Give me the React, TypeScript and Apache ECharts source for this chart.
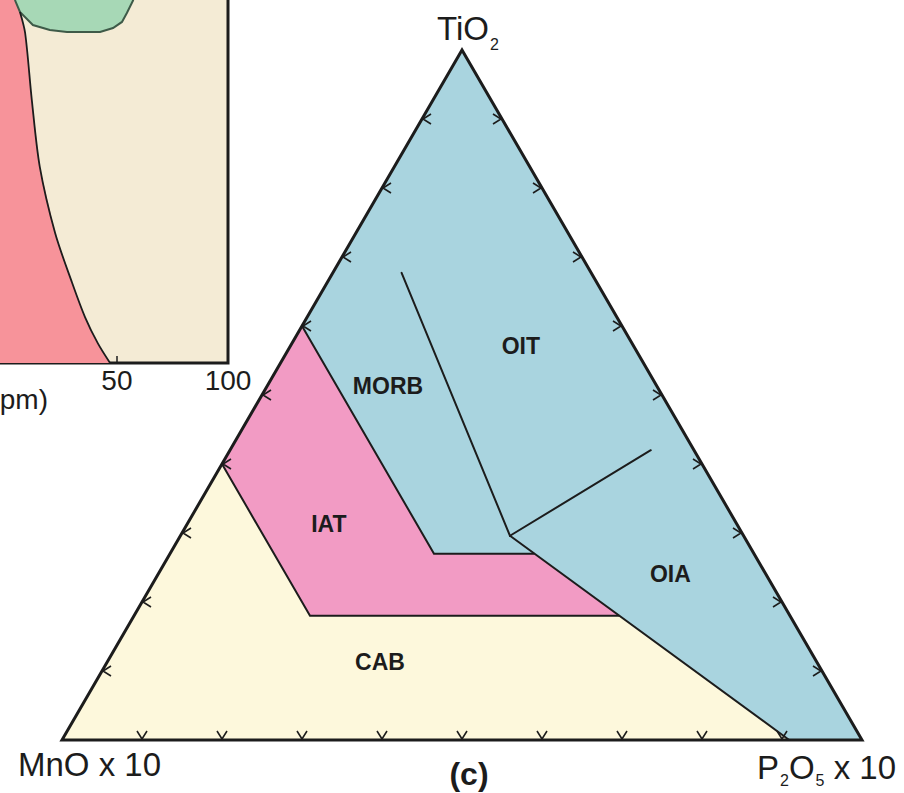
import React, { useEffect, useRef } from 'react';
import * as echarts from 'echarts';

const FONT = '"Liberation Sans", Arial, Helvetica, sans-serif';
const INK = '#1c1c1c';
const OCEAN_BLUE = '#a9d4df';
const IAT_PINK = '#f29bc4';
const CAB_YELLOW = '#fdf8dc';
const LEFT_PINK = '#f7939a';
const LEFT_GREEN = '#a7d8b6';
const LEFT_BEIGE = '#f4ebd5';
const GREEN_EDGE = '#3e5a48';

// ---- Ternary diagram (c): compositions as [TiO2, MnO×10, P2O5×10] (%)
const VERTEX_TIO2 = [100, 0, 0];
const VERTEX_MNO = [0, 100, 0];
const VERTEX_P2O5 = [0, 0, 100];

const CAB_FIELD = [[0, 100, 0], [40, 60, 0], [18, 60, 22], [18, 21.4, 60.6], [0, 9.1, 90.9]];
const IAT_FIELD = [[40, 60, 0], [60, 40, 0], [27, 40, 33], [27, 27.5, 45.5], [18, 21.4, 60.6], [18, 60, 22]];
const OCEANIC_FIELD = [[60, 40, 0], [100, 0, 0], [0, 0, 100], [0, 9.1, 90.9], [18, 21.4, 60.6], [27, 27.5, 45.5], [27, 40, 33]];

const LINE_CAB_IAT = [[40, 60, 0], [18, 60, 22], [18, 21.4, 60.6]];
const LINE_IAT_MORB = [[60, 40, 0], [27, 40, 33], [27, 27.5, 45.5]];
const LINE_OIA_BASE = [[29.6, 29.2, 41.2], [0, 9.1, 90.9]];
const LINE_MORB_OIT = [[67.7, 23.7, 8.6], [29.6, 29.2, 41.2]];
const LINE_OIT_OIA = [[29.6, 29.2, 41.2], [42, 5.4, 52.6]];

const FIELD_LABELS = ['MORB', 'OIT', 'IAT', 'OIA', 'CAB'];
const FIELD_LABEL_POS = [[51.3, 33.6, 15.1], [57.1, 14.1, 28.8], [31.3, 51, 17.7], [24.1, 11.9, 64.0], [11.3, 54.6, 34.1]];

const TICK_STEPS = [10, 20, 30, 40, 50, 60, 70, 80, 90];

// ---- Left panel (cropped): Y (ppm) vs Cr (ppm), log–log
const LEFT_X_TICKS = [50, 100];
const PINK_EDGE_Y = [26.3, 26.5];
const PINK_EDGE_CR = [11.6, 9.6];
const BOUNDARY_Y = [27.3, 28.2, 29.4, 30.9, 34.0, 37.8, 41.0, 44.4, 47.9];
const BOUNDARY_CR = [8.94, 7.84, 5.16, 3.40, 2.25, 1.65, 1.33, 1.13, 1.0];
const GREEN_Y = [26.3, 26.5, 27.3, 29.6, 32.9, 36.6, 45.0, 48.8, 51.6, 53.2, 55.3, 56.3];
const GREEN_CR = [11.6, 9.6, 8.94, 8.24, 7.99, 7.89, 7.89, 8.09, 8.40, 8.88, 9.6, 11.6];

export default function App() {
  const ref = useRef<HTMLDivElement>(null);
  useEffect(() => {
    document.body.style.margin = '0';
    const chart = echarts.init(ref.current as HTMLDivElement, null, { renderer: 'svg' });
    const toXY = (c: number[]) => [c[2] / 100 + c[0] / 200, c[0] / 100];
    const lg = (v: number) => Math.log10(v);

    const fields = [
      { pts: OCEANIC_FIELD, fill: OCEAN_BLUE },
      { pts: IAT_FIELD, fill: IAT_PINK },
      { pts: CAB_FIELD, fill: CAB_YELLOW },
    ];

    const ternaryLine = (pts: number[][], width: number) => ({
      type: 'line', xAxisIndex: 0, yAxisIndex: 0, data: pts.map(toXY), symbol: 'none',
      clip: false, silent: true, z: 3,
      lineStyle: { color: INK, width, join: 'miter', cap: 'round' },
    });

    const tickItems: number[][] = [];
    TICK_STEPS.forEach((s) => { tickItems.push([0, s]); tickItems.push([1, s]); tickItems.push([2, s]); });

    const pinkPoly = [[1, 1], [1, 11.6]]
      .concat(PINK_EDGE_Y.map((y, i) => [y, PINK_EDGE_CR[i]]))
      .concat(BOUNDARY_Y.map((y, i) => [y, BOUNDARY_CR[i]]));
    const greenPoly = GREEN_Y.map((y, i) => [y, GREEN_CR[i]]);

    const option: any = {
      animation: false,
      backgroundColor: '#ffffff',
      grid: [
        { left: 62, top: 50, width: 800, height: 690, show: false, containLabel: false, outerBoundsMode: 'none' },
        {
          left: -510, top: -744, width: 738, height: 1107, show: true, containLabel: false, outerBoundsMode: 'none',
          backgroundColor: LEFT_BEIGE, borderColor: INK, borderWidth: 3,
        },
      ],
      xAxis: [
        { gridIndex: 0, type: 'value', min: 0, max: 1, show: false },
        {
          gridIndex: 1, type: 'value', min: 0, max: 2,
          axisLine: { show: false }, splitLine: { show: false },
          axisTick: { show: true, inside: true, length: 7, customValues: LEFT_X_TICKS.map(lg), lineStyle: { color: INK, width: 1.5 } },
          axisLabel: {
            customValues: LEFT_X_TICKS.map(lg), showMaxLabel: true, margin: 3,
            formatter: (v: number) => String(Math.round(Math.pow(10, v))),
            fontSize: 28, color: INK, fontFamily: FONT,
          },
        },
      ],
      yAxis: [
        { gridIndex: 0, type: 'value', min: 0, max: 1, show: false },
        { gridIndex: 1, type: 'value', min: 0, max: 3, show: false },
      ],
      series: [
        // left panel
        {
          type: 'custom', xAxisIndex: 1, yAxisIndex: 1, data: [0, 1], silent: true, z: 1,
          renderItem: (params: any, api: any) => {
            const poly = params.dataIndex === 0 ? pinkPoly : greenPoly;
            const pts = poly.map((p) => api.coord([lg(p[0]), lg(p[1])]));
            return params.dataIndex === 0
              ? { type: 'polygon', shape: { points: pts }, style: { fill: LEFT_PINK, stroke: 'none' } }
              : { type: 'polygon', shape: { points: pts }, style: { fill: LEFT_GREEN, stroke: GREEN_EDGE, lineWidth: 2 } };
          },
        },
        {
          type: 'line', xAxisIndex: 1, yAxisIndex: 1, symbol: 'none', silent: true, clip: false, z: 2,
          data: BOUNDARY_Y.map((y, i) => [lg(y), lg(BOUNDARY_CR[i])]),
          lineStyle: { color: INK, width: 1.8 }, smooth: 0.3,
        },
        // ternary fields
        {
          type: 'custom', xAxisIndex: 0, yAxisIndex: 0, data: [0, 1, 2, 3], silent: true, z: 1,
          renderItem: (params: any, api: any) => {
            const i = params.dataIndex;
            if (i === 3) {
              const pts = [VERTEX_MNO, VERTEX_TIO2, VERTEX_P2O5].map((c) => api.coord(toXY(c)));
              return { type: 'polygon', z2: 10, shape: { points: pts }, style: { fill: 'none', stroke: INK, lineWidth: 3, lineJoin: 'miter' } };
            }
            const pts = fields[i].pts.map((c) => api.coord(toXY(c)));
            return { type: 'polygon', shape: { points: pts }, style: { fill: fields[i].fill, stroke: 'none' } };
          },
        },
        ternaryLine(LINE_CAB_IAT, 2),
        ternaryLine(LINE_IAT_MORB, 2),
        ternaryLine(LINE_OIA_BASE, 2),
        ternaryLine(LINE_MORB_OIT, 2),
        ternaryLine(LINE_OIT_OIA, 2),
        {
          type: 'custom', xAxisIndex: 0, yAxisIndex: 0, data: tickItems.map((_, i) => i), silent: true, z: 4,
          renderItem: (params: any, api: any) => {
            const [side, s] = tickItems[params.dataIndex];
            const comp = side === 0 ? [s, 100 - s, 0] : side === 1 ? [s, 0, 100 - s] : [0, 100 - s, s];
            const [x, y] = api.coord(toXY(comp));
            const pts = side === 0
              ? [[x + 9, y - 5], [x + 1, y], [x + 9, y + 5]]
              : side === 1
                ? [[x - 9, y - 5], [x - 1, y], [x - 9, y + 5]]
                : [[x - 5, y - 9], [x, y - 1], [x + 5, y - 9]];
            return { type: 'polyline', shape: { points: pts }, style: { stroke: INK, lineWidth: 1.6, fill: 'none' } };
          },
        },
        {
          type: 'custom', xAxisIndex: 0, yAxisIndex: 0, data: FIELD_LABELS.map((_, i) => i), silent: true, z: 5,
          renderItem: (params: any, api: any) => {
            const i = params.dataIndex;
            const [x, y] = api.coord(toXY(FIELD_LABEL_POS[i]));
            return {
              type: 'text', x, y,
              style: { text: FIELD_LABELS[i], fill: INK, fontSize: 23, fontWeight: 'bold', fontFamily: FONT, align: 'center', verticalAlign: 'middle' },
            };
          },
        },
      ],
      graphic: [
        {
          type: 'text', x: 437, y: 12, silent: true,
          style: {
            text: '{m|TiO}{s|2}', align: 'left', verticalAlign: 'top',
            rich: {
              m: { fontSize: 33, fontFamily: FONT, fill: INK, verticalAlign: 'top' },
              s: { fontSize: 16, fontFamily: FONT, fill: INK, verticalAlign: 'top', padding: [24, 0, 0, 1] },
            },
          },
        },
        {
          type: 'text', x: 18, y: 764, silent: true,
          style: { text: 'MnO x 10', fontSize: 33, fontFamily: FONT, fill: INK, align: 'left', verticalAlign: 'middle' },
        },
        {
          type: 'text', x: 757, y: 751, silent: true,
          style: {
            text: '{m|P}{s|2}{m|O}{s|5}{m| x 10}', align: 'left', verticalAlign: 'top',
            rich: {
              m: { fontSize: 33, fontFamily: FONT, fill: INK, verticalAlign: 'top' },
              s: { fontSize: 16, fontFamily: FONT, fill: INK, verticalAlign: 'top', padding: [21, 0, 0, 1] },
            },
          },
        },
        {
          type: 'text', x: 469, y: 774, silent: true,
          style: { text: '(c)', fontSize: 32, fontWeight: 'bold', fontFamily: FONT, fill: INK, align: 'center', verticalAlign: 'middle' },
        },
        {
          type: 'text', x: 48, y: 399, silent: true,
          style: { text: 'Y (ppm)', fontSize: 28, fontFamily: FONT, fill: INK, align: 'right', verticalAlign: 'middle' },
        },
      ],
    };
    chart.setOption(option);
    return () => chart.dispose();
  }, []);
  return <div ref={ref} style={{ width: 904, height: 793, background: '#ffffff' }} />;
}
